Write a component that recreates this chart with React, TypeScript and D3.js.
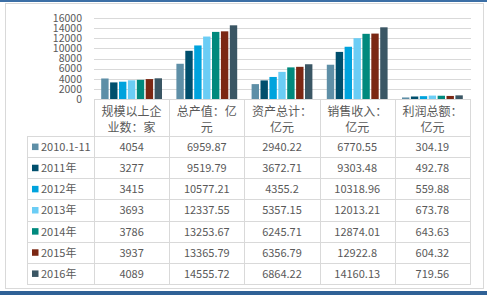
import React from "react";
import * as d3 from "d3";

const categories = ["规模以上企业数：家", "总产值：亿元", "资产总计：亿元", "销售收入：亿元", "利润总额：亿元"];
const categoryLines = [
  ["规模以上企", "业数：家"],
  ["总产值：亿", "元"],
  ["资产总计：", "亿元"],
  ["销售收入：", "亿元"],
  ["利润总额：", "亿元"],
];
const seriesNames = ["2010.1-11", "2011年", "2012年", "2013年", "2014年", "2015年", "2016年"];
const seriesColors = ["#5E8FA7", "#004F6D", "#00A3DD", "#6BCDF5", "#00897D", "#7B2713", "#3A5664"];
const s2010 = [4054, 6959.87, 2940.22, 6770.55, 304.19];
const s2011 = [3277, 9519.79, 3672.71, 9303.48, 492.78];
const s2012 = [3415, 10577.21, 4355.2, 10318.96, 559.88];
const s2013 = [3693, 12337.55, 5357.15, 12013.21, 673.78];
const s2014 = [3786, 13253.67, 6245.71, 12874.01, 643.63];
const s2015 = [3937, 13365.79, 6356.79, 12922.8, 604.32];
const s2016 = [4089, 14555.72, 6864.22, 14160.13, 719.56];
const labels2010 = ["4054", "6959.87", "2940.22", "6770.55", "304.19"];
const labels2011 = ["3277", "9519.79", "3672.71", "9303.48", "492.78"];
const labels2012 = ["3415", "10577.21", "4355.2", "10318.96", "559.88"];
const labels2013 = ["3693", "12337.55", "5357.15", "12013.21", "673.78"];
const labels2014 = ["3786", "13253.67", "6245.71", "12874.01", "643.63"];
const labels2015 = ["3937", "13365.79", "6356.79", "12922.8", "604.32"];
const labels2016 = ["4089", "14555.72", "6864.22", "14160.13", "719.56"];
const yTicks = [0, 2000, 4000, 6000, 8000, 10000, 12000, 14000, 16000];

const seriesValues = [s2010, s2011, s2012, s2013, s2014, s2015, s2016];
const seriesLabels = [labels2010, labels2011, labels2012, labels2013, labels2014, labels2015, labels2016];

const W = 487;
const H = 295;
const FONT = "'Noto Sans CJK SC', 'Noto Sans', sans-serif";
const TEXT = "#595959";
const LINE = "#D9D9D9";

export default function App() {
  const plotLeft = 94;
  const plotRight = 470;
  const y = d3.scaleLinear().domain([0, 16000]).range([99, 18]);
  const x0 = d3.scaleBand<number>().domain(d3.range(categories.length)).range([plotLeft, plotRight]).paddingInner(0).paddingOuter(0);
  const innerPad = 7.2;
  const x1 = d3
    .scaleBand<number>()
    .domain(d3.range(seriesNames.length))
    .range([innerPad, x0.bandwidth() - innerPad])
    .paddingInner(0.17)
    .paddingOuter(0);

  const tableLeft = 27;
  const headerTop = y(0);
  const rowsTop = 136;
  const rowsBottom = 284;
  const rowH = (rowsBottom - rowsTop) / seriesNames.length;

  return (
    <svg width={W} height={H} style={{ position: "fixed", left: 0, top: 0, display: "block", background: "#fff" }} fontFamily={FONT}>
      <rect x={0} y={0} width={W} height={2} fill="#3C6FA6" />
      <rect x={0} y={291} width={W} height={4} fill="#2F6196" />
      <rect x={5.5} y={3.5} width={478} height={285} fill="none" stroke={LINE} />

      {/* gridlines */}
      {yTicks.map((t) => (
        <line key={"g" + t} x1={plotLeft} x2={plotRight + 1} y1={Math.round(y(t)) + 0.5} y2={Math.round(y(t)) + 0.5} stroke={LINE} strokeWidth={1} />
      ))}
      {yTicks.map((t) => (
        <text key={"yl" + t} x={82} y={y(t)} dy="0.36em" textAnchor="end" fontSize={10.5} fill={TEXT}>
          {t}
        </text>
      ))}

      {/* bars */}
      {categories.map((c, ci) => (
        <g key={c} transform={`translate(${x0(ci)},0)`}>
          {seriesValues.map((vals, si) => (
            <rect
              key={si}
              x={x1(si)}
              y={y(vals[ci])}
              width={x1.bandwidth()}
              height={y(0) - y(vals[ci])}
              fill={seriesColors[si]}
            />
          ))}
        </g>
      ))}

      {/* table lines */}
      {d3.range(categories.length + 1).map((i) => {
        const xx = Math.round(plotLeft + i * x0.bandwidth()) + 0.5;
        return <line key={"v" + i} x1={xx} x2={xx} y1={headerTop} y2={rowsBottom} stroke={LINE} />;
      })}
      <line x1={tableLeft + 0.5} x2={tableLeft + 0.5} y1={rowsTop} y2={rowsBottom} stroke={LINE} />
      {d3.range(seriesNames.length + 1).map((r) => {
        const yy = Math.round(rowsTop + r * rowH) + 0.5;
        return <line key={"h" + r} x1={tableLeft} x2={plotRight + 1} y1={yy} y2={yy} stroke={LINE} />;
      })}

      {/* category header */}
      {categoryLines.map((lines, ci) => (
        <g key={"cl" + ci}>
          {lines.map((ln, li) => (
            <text
              key={li}
              x={(x0(ci) as number) + x0.bandwidth() / 2}
              y={112 + li * 15.5}
              dy="0.36em"
              textAnchor="middle"
              fontSize={12}
              fill={TEXT}
            >
              {ln}
            </text>
          ))}
        </g>
      ))}

      {/* legend & values */}
      {seriesNames.map((name, si) => {
        const cy = rowsTop + si * rowH + rowH / 2 + 0.5;
        return (
          <g key={"r" + si}>
            <rect x={32} y={cy - 3.5} width={6.5} height={6.5} fill={seriesColors[si]} />
            <text x={41} y={cy} dy="0.36em" fontSize={11} fill={TEXT}>
              {name}
            </text>
            {seriesLabels[si].map((lab, ci) => (
              <text
                key={ci}
                x={(x0(ci) as number) + x0.bandwidth() / 2}
                y={cy}
                dy="0.36em"
                textAnchor="middle"
                fontSize={11}
                fill={TEXT}
              >
                {lab}
              </text>
            ))}
          </g>
        );
      })}
    </svg>
  );
}
